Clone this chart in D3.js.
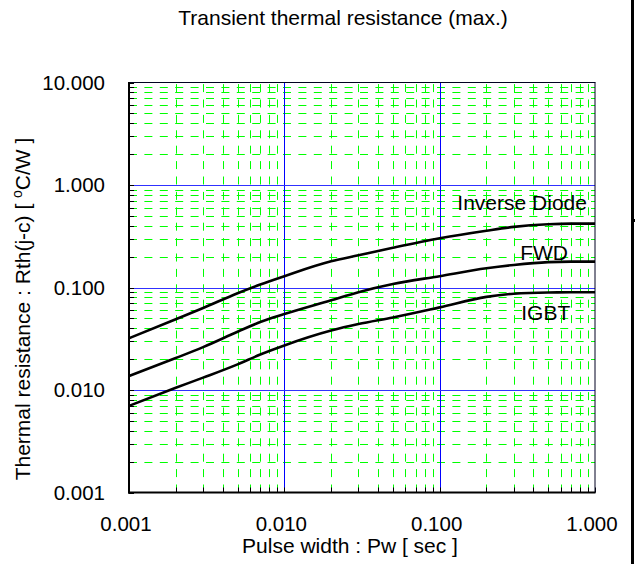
<!DOCTYPE html>
<html><head><meta charset="utf-8">
<script src="https://cdn.jsdelivr.net/npm/d3@7"></script>
<style>
body{margin:0;background:#fff}
svg{display:block}
text{font-family:"Liberation Sans",Arial,sans-serif;fill:#000}
</style>
</head><body>
<svg id="c" width="635" height="564"></svg>
<script>
// ---- data ----
const pulseWidth   = [0.001, 0.002, 0.003, 0.005, 0.007, 0.01, 0.02, 0.03, 0.05, 0.1, 0.2, 0.3, 0.5, 0.7, 1];
const inverseDiode = [0.032, 0.049, 0.063, 0.088, 0.107, 0.129, 0.180, 0.206, 0.244, 0.302, 0.358, 0.390, 0.414, 0.420, 0.420];
const fwd          = [0.0137, 0.0205, 0.0262, 0.037, 0.046, 0.055, 0.075, 0.090, 0.108, 0.129, 0.154, 0.166, 0.177, 0.179, 0.179];
const igbt         = [0.0070, 0.0105, 0.0132, 0.0178, 0.0222, 0.0272, 0.038, 0.044, 0.051, 0.064, 0.081, 0.087, 0.0895, 0.0898, 0.0898];
const seriesNames  = ["Inverse Diode", "FWD", "IGBT"];
const labelX       = [0.130, 0.330, 0.335];
const labelY       = [0.569, 0.185, 0.0482];
const xTicks       = [0.001, 0.01, 0.1, 1];
const xTickLabels  = ["0.001", "0.010", "0.100", "1.000"];
const yTicks       = [0.001, 0.01, 0.1, 1, 10];
const yTickLabels  = ["0.001", "0.010", "0.100", "1.000", "10.000"];
const titleText    = "Transient thermal resistance (max.)";
const xTitle       = "Pulse width : Pw [ sec ]";

// ---- layout ----
const svg = d3.select("#c");
const L = 129, R = 595, T = 82.5, B = 492.5;
const x = d3.scaleLog().domain([0.001, 1]).range([L, R]);
const y = d3.scaleLog().domain([0.001, 10]).range([B, T]);
const px = v => Math.round(x(v)) + 0.5;
const py = v => Math.round(y(v)) + 0.5;

function minors(ticks) {
  const out = [];
  for (let i = 0; i < ticks.length - 1; i++) for (let k = 2; k <= 9; k++) out.push(ticks[i] * k);
  return out;
}
const xMinor = minors(xTicks), yMinor = minors(yTicks);

// green dashed minor grid
const g = svg.append("g");
g.selectAll(".vm").data(xMinor).join("line")
  .attr("x1", d => px(d)).attr("x2", d => px(d)).attr("y1", B).attr("y2", T)
  .attr("stroke", "#00ff00").attr("stroke-width", 1).attr("stroke-dasharray", "8,7.4");
g.selectAll(".hm").data(yMinor).join("line")
  .attr("x1", L).attr("x2", R).attr("y1", d => py(d)).attr("y2", d => py(d))
  .attr("stroke", "#00ff00").attr("stroke-width", 1).attr("stroke-dasharray", "8,7.4");

// blue major grid
g.selectAll(".vM").data(xTicks.slice(1, -1)).join("line")
  .attr("x1", d => px(d)).attr("x2", d => px(d)).attr("y1", B).attr("y2", T)
  .attr("stroke", "#0000ff").attr("stroke-width", 1);
g.selectAll(".hM").data(yTicks.slice(1, -1)).join("line")
  .attr("x1", L).attr("x2", R).attr("y1", d => py(d)).attr("y2", d => py(d))
  .attr("stroke", "#3030ff").attr("stroke-width", 1);

// inner ticks (left & bottom)
g.selectAll(".lt").data(yMinor.concat(yTicks)).join("line")
  .attr("x1", L).attr("x2", L + 5).attr("y1", d => py(d)).attr("y2", d => py(d))
  .attr("stroke", "#000").attr("stroke-width", 1);
g.selectAll(".bt").data(xMinor.concat(xTicks)).join("line")
  .attr("x1", d => px(d)).attr("x2", d => px(d)).attr("y1", B).attr("y2", B - 5)
  .attr("stroke", "#000").attr("stroke-width", 1);

// frame
svg.append("line").attr("x1", L).attr("x2", R + 0.5).attr("y1", T).attr("y2", T).attr("stroke", "#000020").attr("stroke-width", 1);
svg.append("line").attr("x1", R).attr("x2", R).attr("y1", T).attr("y2", B).attr("stroke", "#000020").attr("stroke-width", 1);
svg.append("line").attr("x1", L).attr("x2", L).attr("y1", T - 0.5).attr("y2", B + 1).attr("stroke", "#000").attr("stroke-width", 2);
svg.append("line").attr("x1", L - 1).attr("x2", R + 0.5).attr("y1", B).attr("y2", B).attr("stroke", "#000").attr("stroke-width", 2);

// curves
const series = [inverseDiode, fwd, igbt];
const line = d3.line().x((d, i) => x(pulseWidth[i])).y(d => y(d)).curve(d3.curveMonotoneX);
svg.selectAll(".curve").data(series).join("path")
  .attr("d", d => line(d)).attr("fill", "none").attr("stroke", "#000").attr("stroke-width", 2.6);

// series labels
svg.selectAll(".sl").data(seriesNames).join("text")
  .attr("x", (d, i) => x(labelX[i])).attr("y", (d, i) => y(labelY[i]))
  .attr("font-size", 21).text(d => d);

// tick labels
svg.selectAll(".xl").data(xTicks).join("text")
  .attr("x", d => x(d) - 3).attr("y", 531).attr("text-anchor", "middle")
  .attr("font-size", 20.5).text((d, i) => xTickLabels[i]);
svg.selectAll(".yl").data(yTicks).join("text")
  .attr("x", 105).attr("y", d => y(d)).attr("dy", "0.36em").attr("text-anchor", "end")
  .attr("font-size", 20.5).text((d, i) => yTickLabels[i]);

// titles
svg.append("text").attr("x", 343).attr("y", 25).attr("text-anchor", "middle").attr("font-size", 21).text(titleText);
svg.append("text").attr("x", 350).attr("y", 553).attr("text-anchor", "middle").attr("font-size", 21).text(xTitle);
const yt = svg.append("text").attr("transform", "translate(30,309) rotate(-90)")
  .attr("text-anchor", "middle").attr("font-size", 21);
yt.append("tspan").text("Thermal resistance : Rth(j-c) [ ");
yt.append("tspan").attr("font-size", 14).attr("dy", -8).text("o");
yt.append("tspan").attr("dy", 8).text("C/W ]");

// right-edge bar
svg.append("rect").attr("x", 631).attr("y", 0).attr("width", 3).attr("height", 564).attr("fill", "#000");
svg.append("rect").attr("x", 634).attr("y", 219).attr("width", 1).attr("height", 3).attr("fill", "#000");
</script>
</body></html>
